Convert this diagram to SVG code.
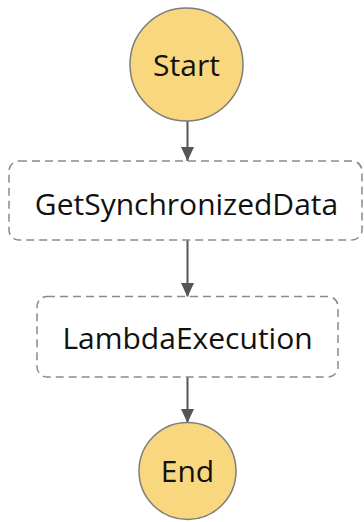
<svg xmlns="http://www.w3.org/2000/svg" width="364" height="522" viewBox="0 0 364 522">
  <style>
    .terminal { fill: #f9d77e; stroke: #7d7d7d; stroke-width: 1.5; }
    .task { fill: #ffffff; stroke: #8a8a8a; stroke-width: 1.5; stroke-dasharray: 8 5; }
    .label { font-family: "Open Sans", "Noto Sans", sans-serif; font-size: 30px; font-weight: 500; fill: #111111; text-anchor: middle; }
    .edge { stroke: #555555; stroke-width: 2; fill: none; marker-end: url(#arrow); }
  </style>
  <defs>
    <marker id="arrow" markerWidth="14" markerHeight="14" refX="14" refY="6.5" orient="auto" markerUnits="userSpaceOnUse">
      <path d="M0,0 L14,6.5 L0,13 Z" fill="#555555"/>
    </marker>
  </defs>
  <rect width="364" height="522" fill="#ffffff"/>

  <g id="edges">
    <line class="edge" x1="187.5" y1="121" x2="187.5" y2="161"/>
    <line class="edge" x1="187.5" y1="240" x2="187.5" y2="297"/>
    <line class="edge" x1="187.5" y1="377" x2="187.5" y2="423"/>
  </g>

  <g id="start">
    <circle class="terminal" cx="186.5" cy="64.5" r="56.5"/>
    <text class="label" x="186.5" y="76">Start</text>
  </g>

  <g id="get-synchronized-data">
    <rect class="task" x="9" y="161" width="353" height="79" rx="10" ry="10"/>
    <text class="label" x="186.5" y="215">GetSynchronizedData</text>
  </g>

  <g id="lambda-execution">
    <rect class="task" x="37" y="296.5" width="301" height="80.5" rx="10" ry="10"/>
    <text class="label" x="187.5" y="349">LambdaExecution</text>
  </g>

  <g id="end">
    <circle class="terminal" cx="187.5" cy="471" r="48.5"/>
    <text class="label" x="187.5" y="482">End</text>
  </g>
</svg>
